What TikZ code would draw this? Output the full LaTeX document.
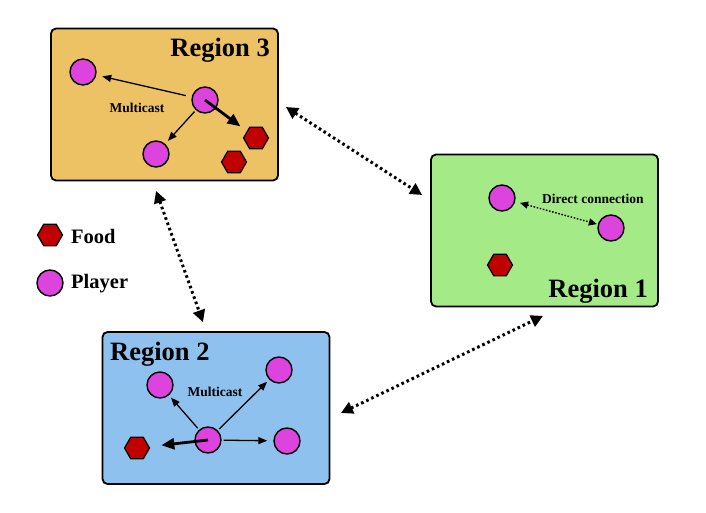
\documentclass[tikz,border=0pt]{standalone}
\usepackage{fontspec}
\setmainfont{Liberation Serif}
\usetikzlibrary{shapes.geometric,arrows.meta,calc}
\definecolor{orangebg}{RGB}{236,194,100}
\definecolor{greenbg}{RGB}{164,234,134}
\definecolor{bluebg}{RGB}{142,193,238}
\definecolor{playercol}{RGB}{221,68,221}
\definecolor{foodcol}{RGB}{192,0,0}
\tikzset{
  regionbox/.style={draw=black,line width=1.8pt,rounded corners=5pt,inner sep=0pt,minimum width=227pt,minimum height=152pt},
  player/.style={circle,draw=black,line width=1.4pt,fill=playercol,minimum size=26pt,inner sep=0pt},
  food/.style={regular polygon,regular polygon sides=6,draw=black,line width=1.2pt,fill=foodcol,minimum size=25pt,inner sep=0pt},
  title/.style={font=\bfseries\fontsize{26.5}{28}\selectfont,inner sep=0pt},
  small/.style={font=\bfseries\fontsize{13.5}{15}\selectfont,inner sep=0pt},
  legend/.style={font=\bfseries\fontsize{20.5}{22}\selectfont,inner sep=0pt,anchor=west},
  msg/.style={-{Triangle[length=9pt,width=7pt]},line width=1.3pt},
  thickmsg/.style={-{Triangle[length=13pt,width=11pt]},line width=2.8pt},
  link/.style={{Triangle[length=12pt,width=12pt]}-{Triangle[length=12pt,width=12pt]},line width=3pt,dash pattern=on 2.6pt off 3pt},
  direct/.style={{Triangle[length=8pt,width=7pt]}-{Triangle[length=8pt,width=7pt]},line width=1.4pt,dash pattern=on 1.6pt off 1.6pt},
}
\begin{document}
\begin{tikzpicture}[x=1pt,y=-1pt]
\fill[white] (0,0) rectangle (706,513);
\useasboundingbox (0,0) rectangle (706,513);
% regions
\node[regionbox,fill=orangebg] (r3) at (164.5,104.5) {};
\node[regionbox,fill=greenbg] (r1) at (544.5,230.5) {};
\node[regionbox,fill=bluebg] (r2) at (216,408) {};
\node[title,anchor=base east] (t3) at (270,57) {Region 3};
\node[title,anchor=base east] (t1) at (648,297) {Region 1};
\node[title,anchor=base west] (t2) at (110,360) {Region 2};
% region 3
\node[player] (a1) at (83,72) {};
\node[player] (a2) at (205,100) {};
\node[player] (a3) at (156,154) {};
\node[food] (af1) at (256,138) {};
\node[food] (af2) at (234,162) {};
\node[small] (am) at (137,108) {Multicast};
\draw[msg,shorten <=6pt,shorten >=6pt] (a2) -- (a1);
\draw[msg,shorten <=2pt,shorten >=4pt] (a2) -- (a3);
\draw[thickmsg,shorten >=8pt] (a2.center) -- (af1);
% region 1
\node[player] (b1) at (502,198) {};
\node[player] (b2) at (611,228) {};
\node[food] (bf) at (500,265) {};
\node[small,anchor=west] (bd) at (542,199) {Direct connection};
\draw[direct,shorten <=5pt,shorten >=1pt] (b1) -- (b2);
% region 2
\node[player] (c1) at (160,385) {};
\node[player] (c2) at (279,370) {};
\node[player] (c0) at (208,440) {};
\node[player] (c3) at (287,441) {};
\node[food] (cf) at (137,448) {};
\node[small] (cm) at (215,392) {Multicast};
\draw[msg,shorten <=2pt,shorten >=3pt] (c0) -- (c1);
\draw[msg,shorten <=2pt,shorten >=3pt] (c0) -- (c2);
\draw[msg,shorten <=2pt,shorten >=6pt] (c0) -- (c3);
\draw[thickmsg,shorten >=12pt] (c0.center) -- (cf);
% legend
\node[food] (lf) at (50,235) {};
\node[legend] (lft) at (71,236) {Food};
\node[player] (lp) at (50,283) {};
\node[legend] (lpt) at (71,284) {Player};
% inter-region links
\draw[link] ($(r3.east)+(7,2.5)$) -- ($(r1.west)+(-8,-35.5)$);
\draw[link] ($(r3.south)+(-8.5,9.5)$) -- ($(r2.north)+(-13,-9)$);
\draw[link] ($(r2.east)+(10.5,5)$) -- ($(r1.south)+(-1.5,8.5)$);
\end{tikzpicture}
\end{document}
